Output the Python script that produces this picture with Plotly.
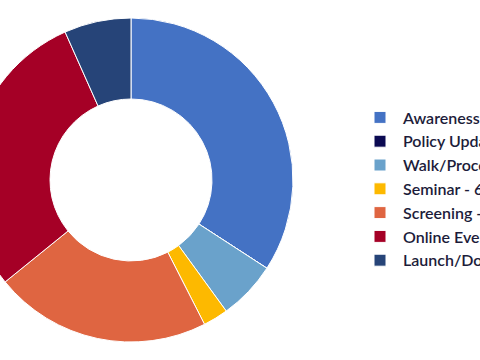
import plotly.graph_objects as go

labels = ["Awareness - 82", "Policy Update - 0", "Walk/Procession - 14", "Seminar - 6",
          "Screening - 52", "Online Events - 70", "Launch/Donation - 16"]
values = [82, 0, 14, 6, 52, 70, 16]
colors = ["#4472C4", "#0B0A52", "#6AA2CB", "#FDB900", "#DF6541", "#A50026", "#264478"]

W = 720
SHIFT = 40

fig = go.Figure(go.Pie(
    labels=labels, values=values, hole=0.5, sort=False, direction="clockwise",
    rotation=0, textinfo="none", hoverinfo="label+value+percent",
    marker=dict(colors=colors, line=dict(color="white", width=1)),
    domain=dict(x=[(171 - 162) / W, (171 + 162) / W], y=[0, 1]),
))

fig.update_layout(
    width=W, height=360,
    margin=dict(l=0, r=0, t=18, b=18),
    paper_bgcolor="white", plot_bgcolor="white",
    showlegend=True,
    legend=dict(x=397 / W, xanchor="left", y=(342 - 189) / 324, yanchor="middle",
                itemwidth=36,
                font=dict(family="Lato", size=16, color="#1c1c3a", weight=600),
                bgcolor="rgba(0,0,0,0)"),
)

post = ("var d=document.getElementById('{plot_id}');"
        "document.body.style.margin='0';document.body.style.overflow='hidden';"
        "d.style.marginLeft='-%dpx';" % SHIFT)
fig.write_html("out.html", post_script=post)
